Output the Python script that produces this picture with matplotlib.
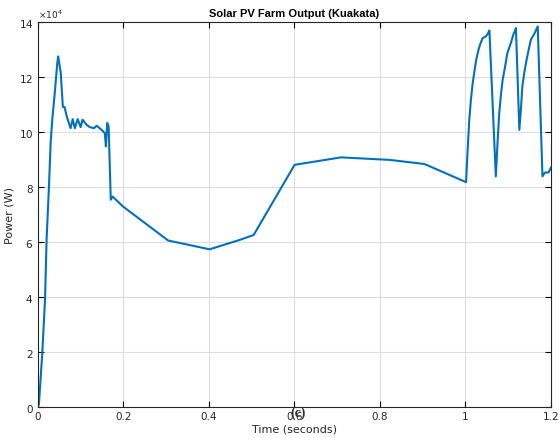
import matplotlib.pyplot as plt
from matplotlib.ticker import ScalarFormatter

# PV farm output over the simulation window (time in s, power in W)
time_s = [
    0.0, 0.003, 0.011, 0.0173, 0.021, 0.0266, 0.0305, 0.034, 0.040, 0.046, 0.048,
    0.054, 0.059, 0.063, 0.068, 0.077, 0.082, 0.087, 0.0936, 0.1006, 0.105,
    0.1146, 0.122, 0.1316, 0.138, 0.1496, 0.157, 0.1596, 0.1627, 0.166, 0.171,
    0.175, 0.200, 0.305, 0.402, 0.472, 0.505, 0.6007, 0.709, 0.822,
    0.904, 1.0014, 1.005, 1.009, 1.013, 1.017, 1.021, 1.025, 1.030, 1.034,
    1.040, 1.048, 1.052, 1.056,
    1.071, 1.075, 1.079, 1.083, 1.087, 1.093, 1.098, 1.106, 1.112, 1.118,
    1.126, 1.130, 1.133, 1.138, 1.143, 1.148, 1.153, 1.160, 1.169,
    1.180, 1.186, 1.194, 1.200,
]
power_w = [
    0, 1000, 19800, 39000, 61000, 80400, 96200, 104000, 114000, 125000, 127400,
    121500, 109000, 109000, 105600, 101300, 104600, 101300, 104600, 101700, 104400,
    102500, 101700, 101300, 102200, 100700, 99500, 94700, 103200, 101900, 75300,
    76500, 72800, 60500, 57300, 60700, 62500, 88000, 90700, 89800,
    88300, 81700, 93000, 104400, 112000, 117700, 122000, 126000, 129500, 131600,
    134000, 134700, 135600, 136800,
    83800, 96000, 106800, 113500, 118900, 124000, 128600, 132200, 135300, 137700,
    100700, 109000, 116500, 122000, 126200, 130000, 133500, 135300, 138300,
    83800, 85200, 85200, 87000,
]

fig = plt.figure(figsize=(5.59, 4.39), dpi=100)
ax = fig.add_axes([0.0673, 0.0706, 0.9184, 0.8777])

ax.plot(time_s, power_w, color="#0072BD", linewidth=1.5)

ax.set_xlim(0, 1.2)
ax.set_ylim(0, 140000)
ax.set_xticks([0, 0.2, 0.4, 0.6, 0.8, 1.0, 1.2])
ax.set_xticklabels(["0", "0.2", "0.4", "0.6", "0.8", "1", "1.2"])
ax.set_yticks(range(0, 140001, 20000))

fmt = ScalarFormatter(useMathText=True)
fmt.set_powerlimits((4, 4))
ax.yaxis.set_major_formatter(fmt)
ax.yaxis.get_offset_text().set_fontsize(6.5)
ax.yaxis.get_offset_text().set_color("#262626")

ax.grid(True, color="#dcdcdc", linewidth=0.8)
ax.set_axisbelow(True)
ax.tick_params(direction="in", top=True, right=True, length=4, width=0.8,
               labelsize=7.5, labelcolor="#262626", pad=3)
for s in ax.spines.values():
    s.set_linewidth(0.8)
    s.set_color("#262626")

ax.set_title("Solar PV Farm Output (Kuakata)", fontsize=8, fontweight="bold",
             family="Liberation Sans", pad=4)
ax.set_xlabel("Time (seconds)", fontsize=8, color="#262626", labelpad=2)
ax.set_ylabel("Power (W)", fontsize=8, color="#262626", labelpad=3)

fig.text(0.533, 0.059, "(c)", fontsize=10, family="Liberation Serif",
         fontweight="bold", ha="center", va="center", color="#333333")

fig.savefig("out.png", dpi=100)
